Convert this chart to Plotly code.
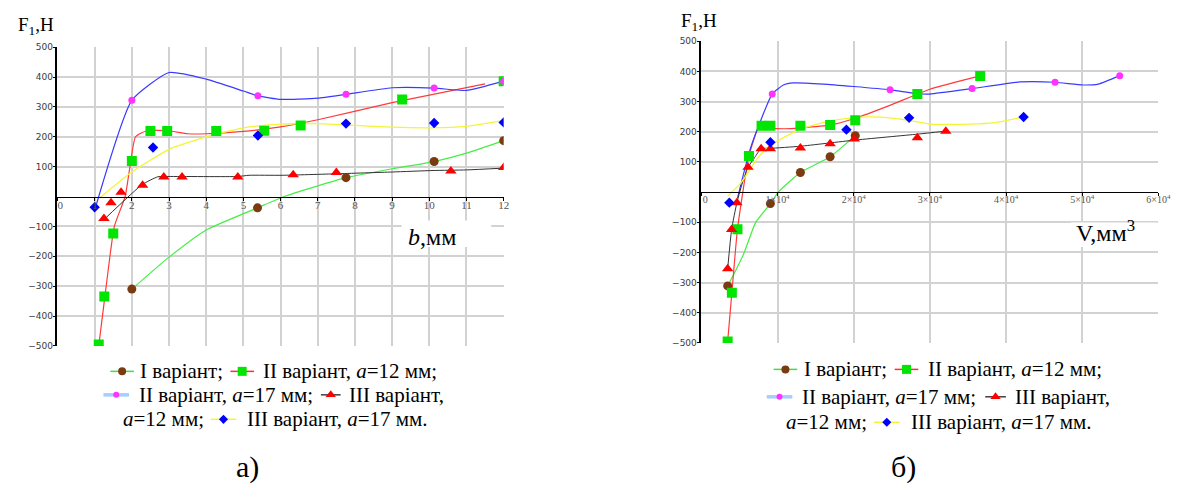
import plotly.graph_objects as go

W, H = 1197, 489

# ---------------- panel а): F1 against width b, mm ----------------
# markers (measured points)
b_I = [2.0, 5.38, 7.76, 10.13, 12.0]
Fb_I = [-310, -38, 63, 117, 187]
b_II12 = [1.11, 1.26, 1.5, 2.0, 2.5, 2.95, 4.27, 5.56, 6.54, 9.27, 12.0]
Fb_II12 = [-495, -335, -124, 119, 219, 219, 219, 220, 238, 325, 386]
b_II17 = [2.0, 5.39, 7.76, 10.13, 12.0]
Fb_II17 = [322, 337, 342, 363, 386]
b_III12 = [1.25, 1.44, 1.71, 2.29, 2.86, 3.35, 4.85, 6.34, 7.5, 10.58, 12.0]
Fb_III12 = [-74, -21, 14, 38, 65, 65, 65, 73, 80, 85, 97]
b_III17 = [1.0, 2.57, 5.39, 7.76, 10.13, 12.0]
Fb_III17 = [-36, 164, 204, 244, 246, 248]

# approximating curves
bt_I = [2.0, 3.0, 4.0, 5.38, 6.1, 7.76, 9.0, 10.13, 11.0, 12.0]
Fbt_I = [-310, -203, -112, -38, 0, 63, 93, 117, 145, 187]
bt_II12 = [1.11, 1.31, 1.53, 1.82, 1.95, 2.1, 2.4, 3.0, 3.5, 4.0, 5.0, 6.0, 7.0, 9.0, 11.5]
Fbt_II12 = [-500, -300, -100, 0, 100, 200, 220, 220, 210, 210, 218, 233, 257, 314, 377]
bt_II17 = [1.05, 2.0, 3.0, 4.0, 5.0, 5.39, 6.0, 6.5, 7.0, 7.76, 9.0, 10.13, 11.0, 12.0]
Fbt_II17 = [-25, 322, 415, 393, 353, 337, 325, 326, 329, 342, 364, 363, 355, 386]
bt_III12 = [1.27, 2.28, 2.7, 3.0, 4.85, 5.15, 6.04, 7.5, 9.0, 10.1, 11.0, 12.0]
Fbt_III12 = [-75, 40, 66, 67, 67, 71, 71, 76, 82, 87, 89, 95]
bt_III17 = [1.13, 2.0, 3.0, 4.0, 5.0, 6.0, 7.0, 8.0, 9.0, 10.0, 11.0, 12.0]
Fbt_III17 = [-5, 82, 158, 200, 230, 242, 244, 238, 232, 230, 235, 255]

# ---------------- panel б): F1 against volume V, mm^3 ----------------
V_I = [3450, 9060, 13000, 16900, 20200]
FV_I = [-311, -38, 65, 117, 187]
V_II12 = [3450, 4000, 4740, 6250, 7900, 9060, 13000, 16900, 20200, 28350, 36600]
FV_II12 = [-495, -334, -123, 120, 220, 220, 220, 222, 238, 325, 385]
V_II17 = [9300, 24770, 35540, 46430, 54920]
FV_II17 = [325, 339, 343, 364, 386]
V_III12 = [3450, 3970, 4660, 6120, 7840, 9060, 13000, 16900, 20080, 28350, 32090]
FV_III12 = [-254, -124, -35, 82, 144, 144, 146, 160, 176, 180, 202]
V_III17 = [3670, 9060, 19040, 27270, 42300]
FV_III17 = [-35, 165, 207, 246, 249]

Vt_I = [3450, 4500, 5600, 7100, 9060, 10100, 13000, 16900, 20200]
FVt_I = [-311, -260, -202, -102, -38, 0, 65, 117, 187]
Vt_II12 = [3450, 4000, 4740, 6250, 7650, 9000, 11000, 13000, 16900, 20000, 25000, 30000, 36600]
FVt_II12 = [-495, -334, -123, 120, 220, 212, 210, 213, 222, 243, 290, 341, 385]
Vt_II17 = [4740, 6500, 9300, 10770, 12070, 16000, 20000, 24770, 28350, 30000, 35540, 41800, 46430, 50100, 52100, 54920]
FVt_II17 = [-20, 150, 325, 355, 362, 358, 350, 339, 326, 325, 343, 365, 364, 355, 358, 386]
Vt_III12 = [3450, 3970, 4660, 5500, 6120, 7000, 7840, 9060, 13000, 20000, 28350, 32090]
FVt_III12 = [-254, -124, -35, 40, 82, 115, 144, 145, 152, 172, 192, 202]
Vt_III17 = [3450, 5180, 7330, 9060, 13000, 16900, 20080, 22400, 25000, 28350, 30000, 35300, 38500, 42300]
FVt_III17 = [-13, 30, 111, 155, 209, 236, 247, 249, 245, 233, 225, 225, 230, 249]

# axis ticks
F_ticks = [-500, -400, -300, -200, -100, 100, 200, 300, 400, 500]
b_ticks = list(range(0, 13))
V_ticks = [0, 10000, 20000, 30000, 40000, 50000, 60000]
V_tick_text = ["\u00a0\u00a0\u00a00"] + [f"{k}×10<sup>4</sup>" for k in range(1, 7)]

STYLE = {
    "I":     dict(line="#44ee44", lw=1.2, mcolor="#7b3a10", symbol="circle", size=9),
    "II12":  dict(line="#ff3a3a", lw=1.2, mcolor="#00e600", symbol="square", size=10),
    "II17":  dict(line="#3a3aff", lw=1.2, mcolor="#ff33ff", symbol="circle", size=7),
    "III12": dict(line="#333333", lw=1.0, mcolor="#ff0000", symbol="triangle-up", size=10),
    "III17": dict(line="#f4f436", lw=1.3, mcolor="#0000ff", symbol="diamond", size=8),
}

panel_a = {
    "I": (b_I, Fb_I, bt_I, Fbt_I),
    "II12": (b_II12, Fb_II12, bt_II12, Fbt_II12),
    "II17": (b_II17, Fb_II17, bt_II17, Fbt_II17),
    "III12": (b_III12, Fb_III12, bt_III12, Fbt_III12),
    "III17": (b_III17, Fb_III17, bt_III17, Fbt_III17),
}
panel_b = {
    "I": (V_I, FV_I, Vt_I, FVt_I),
    "II12": (V_II12, FV_II12, Vt_II12, FVt_II12),
    "II17": (V_II17, FV_II17, Vt_II17, FVt_II17),
    "III12": (V_III12, FV_III12, Vt_III12, FVt_III12),
    "III17": (V_III17, FV_III17, Vt_III17, FVt_III17),
}

fig = go.Figure()


def add_panel(data, xa, ya):
    for key, (mx, my, tx, ty) in data.items():
        s = STYLE[key]
        fig.add_trace(go.Scatter(x=tx, y=ty, mode="lines", xaxis=xa, yaxis=ya,
                                 line=dict(color=s["line"], width=s["lw"], shape="spline", smoothing=0.5),
                                 showlegend=False, hoverinfo="skip"))
    for key, (mx, my, tx, ty) in data.items():
        s = STYLE[key]
        fig.add_trace(go.Scatter(x=mx, y=my, mode="markers", xaxis=xa, yaxis=ya,
                                 marker=dict(color=s["mcolor"], symbol=s["symbol"], size=s["size"],
                                             line=dict(width=0)),
                                 showlegend=False))


add_panel(panel_a, "x", "y")
add_panel(panel_b, "x2", "y2")


def xdom(x0, x1):
    return [x0 / W, x1 / W]


def ydom(y0, y1):
    return [1 - y1 / H, 1 - y0 / H]


A_X = xdom(52.3, 505.7)
A_Y = ydom(43, 348)
B_X = xdom(706.6, 1171)
B_Y = ydom(37, 345)

GRID = "#d2d2d2"
YFONT = dict(family="DejaVu Sans", size=9, color="#3a3a3a")
XFONT = dict(family="Liberation Serif", size=11, color="#555555")
F_text = [("\u2212" + str(-v)) if v < 0 else str(v) for v in F_ticks]


def yaxis(dom, anchor):
    return dict(domain=dom, anchor=anchor, range=[-500, 500], tickvals=F_ticks, ticktext=F_text,
                showgrid=True, gridcolor=GRID, gridwidth=1.5, zeroline=False,
                showline=True, linecolor="black", linewidth=1.5,
                ticks="outside", ticklen=3, tickcolor="black", tickfont=YFONT,
                ticklabelstandoff=-2, fixedrange=True)


def xaxis(dom, anchor_pos, rng, vals, text):
    return dict(domain=dom, anchor="free", position=anchor_pos, range=rng,
                tickvals=vals, ticktext=text,
                showgrid=True, gridcolor=GRID, gridwidth=1.5, zeroline=False,
                showline=True, linecolor="black", linewidth=1.2,
                ticks="outside", ticklen=3, tickcolor="black", tickfont=XFONT,
                ticklabelstandoff=-5, fixedrange=True)


b_text = ["\u00a0\u00a00"] + [str(v) for v in b_ticks[1:]]

fig.update_layout(
    width=W, height=H, margin=dict(l=0, r=0, t=0, b=0),
    paper_bgcolor="white", plot_bgcolor="rgba(0,0,0,0)", showlegend=False,
    xaxis=xaxis(A_X, (A_Y[0] + A_Y[1]) / 2, [0, 12], b_ticks, b_text),
    yaxis=yaxis(A_Y, "x"),
    xaxis2=xaxis(B_X, (B_Y[0] + B_Y[1]) / 2, [0, 60000], V_ticks, V_tick_text),
    yaxis2=yaxis(B_Y, "x2"),
    # whole-page pixel frame for titles and legend keys
    xaxis3=dict(domain=[0, 1], range=[0, W], visible=False, anchor="y3", fixedrange=True),
    yaxis3=dict(domain=[0, 1], range=[H, 0], visible=False, anchor="x3", fixedrange=True),
)
fig.layout.xaxis2.tickfont = dict(family="Liberation Serif", size=10, color="#555555")

# white boxes behind the axis titles
for x0, y0, x1, y1 in [(402, 220, 493, 247), (1082, 222, 1170, 247)]:
    fig.add_shape(type="rect", xref="x3", yref="y3", x0=x0, y0=y0, x1=x1, y1=y1,
                  fillcolor="white", line=dict(width=0), layer="between")

SERIF = "Liberation Serif"


def text(x, y, s, size=21, anchor="center"):
    fig.add_annotation(x=x, y=y, xref="x3", yref="y3", text=s, showarrow=False,
                       xanchor=anchor, yanchor="middle",
                       font=dict(family=SERIF, size=size, color="black"))


text(30, 21, "F<sub>1</sub>,Н", 19)
text(704, 17, "F<sub>1</sub>,Н", 19)
text(433, 237, "<i>b</i>,мм", 24)
text(1117, 231, "V,мм<sup>3</sup>", 24)
text(245, 472, "а)", 30)
text(912, 472, "б)", 30)

LEGEND_KEY = {
    "I": "#44dd44", "II12": "#ff3030", "II17": "#a8ccff", "III12": "#111111", "III17": "#f4f436",
}
KEY_W = {"I": 1.5, "II12": 1.5, "II17": 3.5, "III12": 1.2, "III17": 1.5}

# legend rows: (key, x0, x1, y) and (label, xc, y)
legend_keys = [
    ("I", 106, 130, 374), ("II12", 228, 252, 374), ("II17", 99, 125, 398),
    ("III12", 320, 340, 398), ("III17", 208, 234, 423),
    ("I", 780, 804, 372), ("II12", 903, 927, 372), ("II17", 773, 799, 400),
    ("III12", 995, 1016, 400), ("III17", 882, 908, 426),
]
legend_labels = [
    ("І варіант;", 178.5, 374), ("ІІ варіант, <i>a</i>=12 мм;", 350, 374),
    ("ІІ варіант, <i>a</i>=17 мм;", 223.5, 398), ("ІІІ варіант,", 396.5, 398),
    ("<i>a</i>=12 мм;", 160, 423), ("ІІІ варіант, <i>a</i>=17 мм.", 336.5, 423),
    ("І варіант;", 853.5, 372), ("ІІ варіант, <i>a</i>=12 мм;", 1025, 372),
    ("ІІ варіант, <i>a</i>=17 мм;", 897.5, 400), ("ІІІ варіант,", 1074, 400),
    ("<i>a</i>=12 мм;", 833.5, 426), ("ІІІ варіант, <i>a</i>=17 мм.", 1011.5, 426),
]

for key, x0, x1, y in legend_keys:
    s = STYLE[key]
    fig.add_trace(go.Scatter(x=[x0, x1], y=[y, y], mode="lines", xaxis="x3", yaxis="y3",
                             line=dict(color=LEGEND_KEY[key], width=KEY_W[key]),
                             showlegend=False, hoverinfo="skip"))
    fig.add_trace(go.Scatter(x=[(x0 + x1) / 2], y=[y], mode="markers", xaxis="x3", yaxis="y3",
                             marker=dict(color=s["mcolor"], symbol=s["symbol"], size=s["size"] - 1,
                                         line=dict(width=0)),
                             showlegend=False, hoverinfo="skip"))

for s, xc, y in legend_labels:
    text(xc, y, s, 21)

fig.write_html("out.html")
